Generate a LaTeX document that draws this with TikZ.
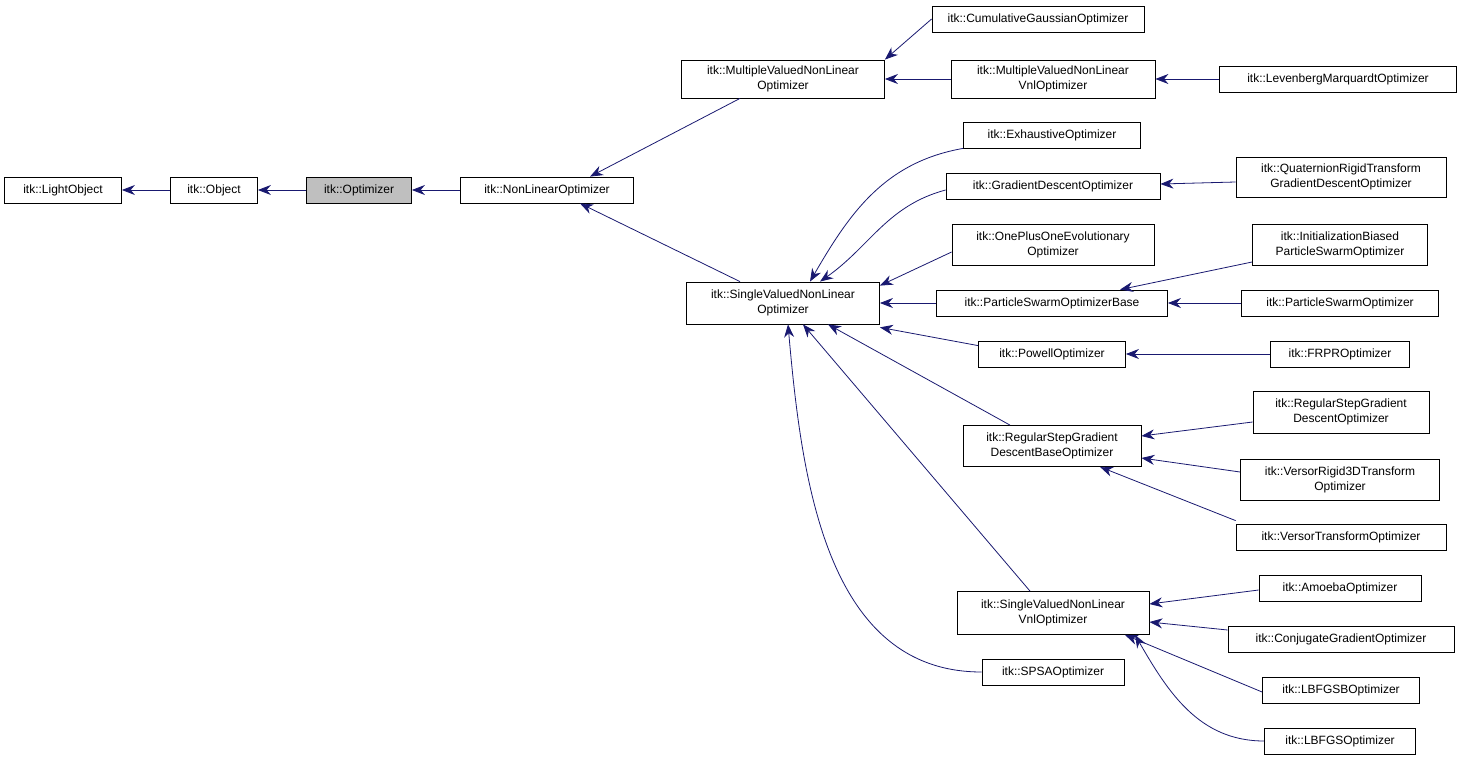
\documentclass[tikz,border=0pt]{standalone}
\usepackage{fontspec}
\setmainfont{Liberation Sans}
\usetikzlibrary{arrows.meta}
\definecolor{DoxyEdge}{RGB}{25,25,112}
\definecolor{DoxyGray}{RGB}{191,191,191}
\tikzset{
  cls/.style n args={3}{draw,rectangle,line width=0.8pt,inner sep=0pt,align=center,
     font=\fontsize{12}{14.5}\selectfont,minimum width=#1pt,minimum height=#2pt,fill=#3},
  inh/.style={DoxyEdge,line width=0.8pt,{Stealth[length=13pt,width=10pt]}-}
}
\begin{document}
\begin{tikzpicture}[x=1pt,y=-1pt]
\useasboundingbox (0,0) rectangle (1467,760);
% base chain
\node[cls={117}{26}{white}] (lightobj) at (63,190) {itk::LightObject};
\node[cls={87}{26}{white}] (object) at (214,190) {itk::Object};
\node[cls={105}{26}{DoxyGray}] (optimizer) at (359,190) {itk::Optimizer};
\node[cls={173}{26}{white}] (nonlinear) at (547,190) {itk::NonLinearOptimizer};
% second level
\node[cls={203}{38}{white}] (mvnl) at (783,79) {itk::MultipleValuedNonLinear\\Optimizer};
\node[cls={193}{42}{white}] (svnl) at (783,303) {itk::SingleValuedNonLinear\\Optimizer};
% multiple valued branch
\node[cls={212}{26}{white}] (cumgauss) at (1038,19) {itk::CumulativeGaussianOptimizer};
\node[cls={204}{38}{white}] (mvnlvnl) at (1053,79) {itk::MultipleValuedNonLinear\\VnlOptimizer};
\node[cls={237}{26}{white}] (levmar) at (1338,79) {itk::LevenbergMarquardtOptimizer};
% single valued branch
\node[cls={177}{26}{white}] (exhaust) at (1052,135) {itk::ExhaustiveOptimizer};
\node[cls={214}{26}{white}] (graddesc) at (1053,186) {itk::GradientDescentOptimizer};
\node[cls={210}{40}{white}] (quatgd) at (1341,177) {itk::QuaternionRigidTransform\\GradientDescentOptimizer};
\node[cls={202}{41}{white}] (oneplus) at (1053,245) {itk::OnePlusOneEvolutionary\\Optimizer};
\node[cls={175}{41}{white}] (initpso) at (1340,245) {itk::InitializationBiased\\ParticleSwarmOptimizer};
\node[cls={231}{26}{white}] (psobase) at (1052,303) {itk::ParticleSwarmOptimizerBase};
\node[cls={197}{26}{white}] (pso) at (1340,303) {itk::ParticleSwarmOptimizer};
\node[cls={147}{26}{white}] (powell) at (1052,354) {itk::PowellOptimizer};
\node[cls={139}{26}{white}] (frpr) at (1340,354) {itk::FRPROptimizer};
\node[cls={178}{41}{white}] (rsgdbase) at (1052,446) {itk::RegularStepGradient\\DescentBaseOptimizer};
\node[cls={176}{42}{white}] (rsgd) at (1341,412) {itk::RegularStepGradient\\DescentOptimizer};
\node[cls={199}{41}{white}] (versorrigid) at (1340,480) {itk::VersorRigid3DTransform\\Optimizer};
\node[cls={210}{26}{white}] (versor) at (1341,537) {itk::VersorTransformOptimizer};
\node[cls={192}{43}{white}] (svnlvnl) at (1053,613) {itk::SingleValuedNonLinear\\VnlOptimizer};
\node[cls={162}{26}{white}] (amoeba) at (1340,588) {itk::AmoebaOptimizer};
\node[cls={226}{26}{white}] (conjgrad) at (1341,639) {itk::ConjugateGradientOptimizer};
\node[cls={157}{26}{white}] (lbfgsb) at (1341,690) {itk::LBFGSBOptimizer};
\node[cls={151}{26}{white}] (lbfgs) at (1340,741) {itk::LBFGSOptimizer};
\node[cls={142}{26}{white}] (spsa) at (1053,672) {itk::SPSAOptimizer};
% inheritance edges
\draw[inh] (lightobj) -- (object);
\draw[inh] (object) -- (optimizer);
\draw[inh] (optimizer) -- (nonlinear);
\draw[inh] ([xshift=43pt]nonlinear.north) -- ([xshift=-43pt]mvnl.south);
\draw[inh] ([xshift=33pt]nonlinear.south) -- ([xshift=-43pt]svnl.north);
\draw[inh] (mvnl.north east) -- (cumgauss.west);
\draw[inh] (mvnl) -- (mvnlvnl);
\draw[inh] (mvnlvnl) -- (levmar);
\draw[inh] ([xshift=27pt]svnl.north) to[out=60,in=190] (exhaust.south west);
\draw[inh] ([xshift=37pt]svnl.north) to[out=35,in=195] ([yshift=-4pt]graddesc.west);
\draw[inh] ([yshift=-4pt]svnl.north east) -- ([yshift=-7pt]oneplus.west);
\draw[inh] (svnl) -- (psobase);
\draw[inh] ([yshift=-3pt]svnl.south east) -- ([yshift=-5pt]powell.north west);
\draw[inh] ([xshift=45pt]svnl.south) -- ([xshift=-42pt]rsgdbase.north);
\draw[inh] ([xshift=20pt]svnl.south) -- ([xshift=-23pt]svnlvnl.north);
\draw[inh] ([xshift=5pt]svnl.south) to[out=-85,in=180] (spsa.west);
\draw[inh] ([yshift=2pt]graddesc.east) -- ([yshift=-5pt]quatgd.west);
\draw[inh] ([xshift=68pt]psobase.north) -- ([yshift=-17pt]initpso.west);
\draw[inh] (psobase) -- (pso);
\draw[inh] (powell) -- (frpr);
\draw[inh] ([yshift=10pt]rsgdbase.east) -- ([yshift=-10pt]rsgd.west);
\draw[inh] ([yshift=-12pt]rsgdbase.east) -- ([yshift=8pt]versorrigid.west);
\draw[inh] ([xshift=48pt]rsgdbase.south) -- ([yshift=3pt]versor.north west);
\draw[inh] ([yshift=9pt]svnlvnl.east) -- ([yshift=-2pt]amoeba.west);
\draw[inh] ([yshift=-9pt]svnlvnl.east) -- ([yshift=9pt]conjgrad.west);
\draw[inh] ([xshift=72pt]svnlvnl.south) -- ([yshift=-2pt]lbfgsb.west);
\draw[inh] ([xshift=82pt]svnlvnl.south) to[out=-60,in=180] (lbfgs.west);
\end{tikzpicture}
\end{document}
